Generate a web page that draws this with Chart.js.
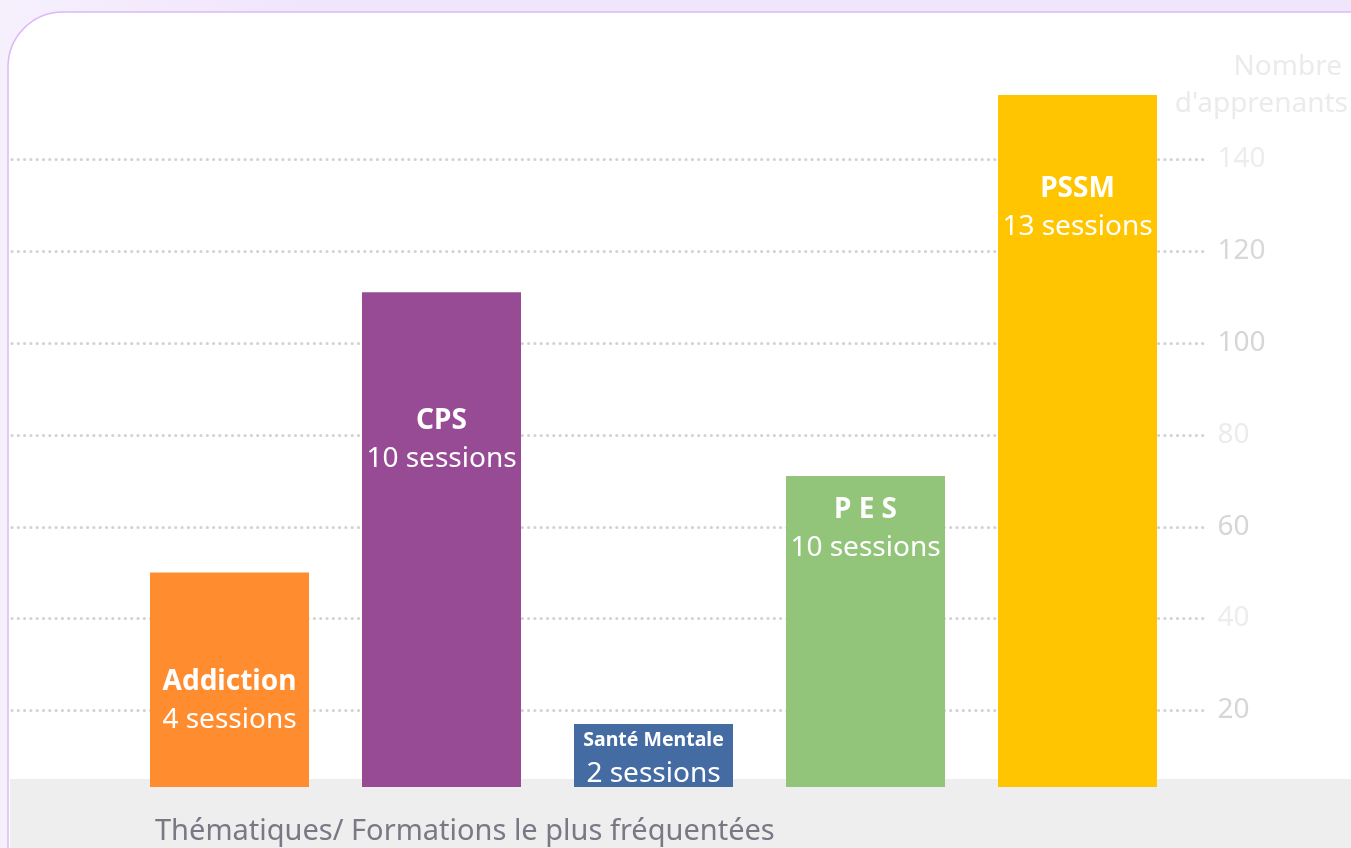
<!DOCTYPE html>
<html>
<head>
<meta charset="utf-8">
<script src="https://cdn.jsdelivr.net/npm/chart.js@4.4.1/dist/chart.umd.min.js"></script>
<style>
  html, body { margin: 0; padding: 0; background: #f2eafc; }
  #wrap { width: 1351px; height: 848px; position: relative; }
</style>
</head>
<body>
<div id="wrap"><canvas id="formations"></canvas></div>
<script>
// data
const themes = ['Addiction', 'CPS', 'Santé Mentale', 'P E S', 'PSSM'];
const learners = [50, 111, 17, 71, 154];
const sessions = [4, 10, 2, 10, 13];
const yTicks = [20, 40, 60, 80, 100, 120, 140];

const barColors = ['#ff8c2e', '#964b94', '#446ca3', '#92c57a', '#ffc500'];
const tickColors = { 20: '#d6d6d6', 40: '#ededed', 60: '#d6d6d6', 80: '#ececec', 100: '#d6d6d6', 120: '#d8d8d8', 140: '#ededed' };

const FONT = '"Noto Sans", "Open Sans", sans-serif';

// card background, grey footer band, dotted grid, titles
const decor = {
  id: 'decor',
  beforeDraw(chart) {
    const ctx = chart.ctx;
    const w = chart.width, h = chart.height;
    ctx.save();
    const bg = ctx.createLinearGradient(0, 0, 300, 0);
    bg.addColorStop(0, '#f6f0fd');
    bg.addColorStop(1, '#f0e6fc');
    ctx.fillStyle = bg;
    ctx.fillRect(0, 0, w, h);

    // white card with rounded top-left corner
    const x0 = 8, y0 = 12, r = 55;
    ctx.beginPath();
    ctx.moveTo(x0, h + 5);
    ctx.lineTo(x0, y0 + r);
    ctx.arcTo(x0, y0, x0 + r, y0, r);
    ctx.lineTo(w + 5, y0);
    ctx.lineTo(w + 5, h + 5);
    ctx.closePath();
    ctx.fillStyle = '#ffffff';
    ctx.fill();
    ctx.lineWidth = 1.5;
    ctx.strokeStyle = '#dcb9f6';
    ctx.stroke();

    // grey band at the bottom
    ctx.fillStyle = '#eeeeee';
    ctx.fillRect(x0 + 2, 779, w, h - 779);

    // footer title
    ctx.fillStyle = '#7c7785';
    ctx.font = '29px ' + FONT;
    ctx.textAlign = 'left';
    ctx.textBaseline = 'middle';
    ctx.fillText('Thématiques/ Formations le plus fréquentées', 155, 832);

    // axis title top right
    ctx.fillStyle = '#ebebeb';
    ctx.font = '28px ' + FONT;
    ctx.textAlign = 'right';
    ctx.fillText('Nombre', 1342, 67);
    ctx.fillText("d'apprenants", 1348, 104);
    ctx.restore();
  },
  beforeDatasetsDraw(chart) {
    const ctx = chart.ctx;
    const y = chart.scales.y;
    ctx.save();
    ctx.strokeStyle = '#d2d2d2';
    ctx.lineWidth = 3.2;
    ctx.lineCap = 'round';
    ctx.setLineDash([0, 6.3]);
    yTicks.forEach(v => {
      const py = Math.round(y.getPixelForValue(v)) + 0.5;
      ctx.beginPath();
      ctx.moveTo(12, py);
      ctx.lineTo(chart.chartArea.right + 20, py);
      ctx.stroke();
    });
    ctx.restore();
  },
  afterDatasetsDraw(chart, args, opts) {
    const ctx = chart.ctx;
    const meta = chart.getDatasetMeta(0);
    ctx.save();
    ctx.fillStyle = '#ffffff';
    ctx.textAlign = 'center';
    ctx.textBaseline = 'middle';
    meta.data.forEach((bar, i) => {
      const top = bar.y;
      const off = opts.nameOffset[i];
      ctx.font = 'bold ' + opts.nameSize[i] + 'px ' + FONT;
      ctx.fillText(themes[i], bar.x, top + off);
      ctx.font = '28px ' + FONT;
      ctx.fillText(sessions[i] + ' sessions', bar.x, top + off + opts.lineGap[i]);
    });
    ctx.restore();
  }
};

new Chart(document.getElementById('formations'), {
  type: 'bar',
  data: {
    labels: themes,
    datasets: [{
      data: learners,
      backgroundColor: barColors,
      borderWidth: 0,
      barPercentage: 0.75,
      categoryPercentage: 1
    }]
  },
  options: {
    responsive: true,
    maintainAspectRatio: false,
    animation: false,
    layout: { padding: { left: 123.5, top: 88, bottom: 61, right: 0 } },
    plugins: {
      legend: { display: false },
      tooltip: { enabled: false },
      decor: {
        nameOffset: [110, 129, 16, 34, 94],
        nameSize: [28, 28, 19.5, 28, 28],
        lineGap: [38, 38, 34, 38, 38]
      }
    },
    scales: {
      x: { display: false },
      y: {
        position: 'right',
        min: 3.3,
        max: 155.5,
        grid: { display: false, drawTicks: false },
        border: { display: false },
        afterBuildTicks(scale) { scale.ticks = yTicks.map(v => ({ value: v })); },
        afterFit(scale) { scale.width = 167.5; },
        ticks: {
          padding: 34,
          font: { family: FONT, size: 28 },
          color: c => tickColors[c.tick.value] || '#d6d6d6'
        }
      }
    }
  },
  plugins: [decor]
});
</script>
</body>
</html>
